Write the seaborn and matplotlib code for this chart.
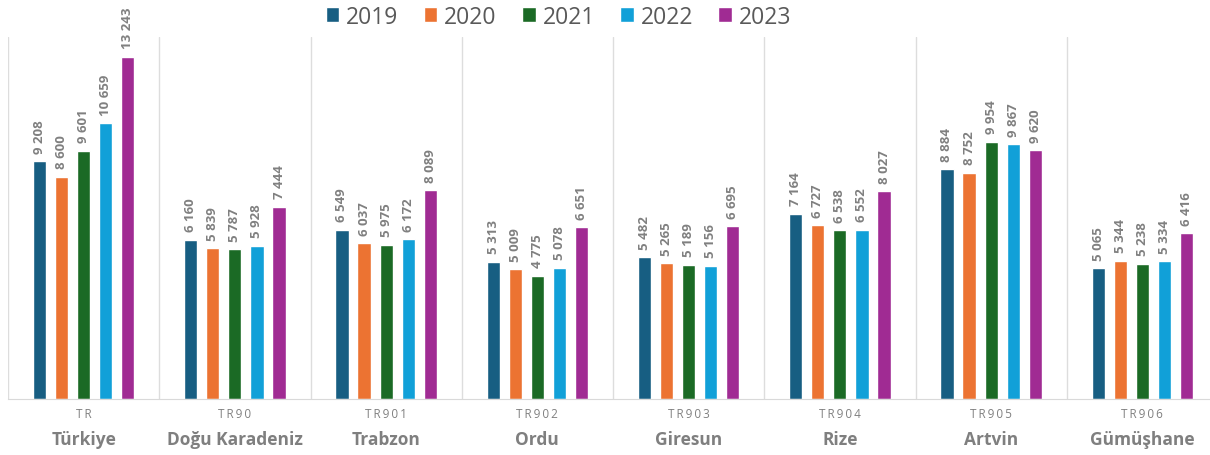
import pandas as pd
import numpy as np
import seaborn as sns
import matplotlib.pyplot as plt

codes = ['TR', 'TR90', 'TR901', 'TR902', 'TR903', 'TR904', 'TR905', 'TR906']
names = ['Türkiye', 'Doğu Karadeniz', 'Trabzon', 'Ordu', 'Giresun', 'Rize', 'Artvin', 'Gümüşhane']
years = ['2019', '2020', '2021', '2022', '2023']
v2019 = [9208, 6160, 6549, 5313, 5482, 7164, 8884, 5065]
v2020 = [8600, 5839, 6037, 5009, 5265, 6727, 8752, 5344]
v2021 = [9601, 5787, 5975, 4775, 5189, 6538, 9954, 5238]
v2022 = [10659, 5928, 6172, 5078, 5156, 6552, 9867, 5334]
v2023 = [13243, 7444, 8089, 6651, 6695, 8027, 9620, 6416]
colors = ['#175e82', '#ec7332', '#1b6a25', '#11a0d8', '#a02b93']

df = pd.DataFrame({'code': codes, '2019': v2019, '2020': v2020, '2021': v2021,
                   '2022': v2022, '2023': v2023})
long = df.melt(id_vars='code', var_name='year', value_name='value')

sns.set_style('white')
plt.rcParams['font.family'] = ['Open Sans', 'DejaVu Sans']

fig = plt.figure(figsize=(12.10, 4.56), dpi=100)
ax = fig.add_axes([8/1210, 56/456, 1210/1210, 362/456])
sns.barplot(data=long, x='code', y='value', hue='year', hue_order=years,
            palette=colors, saturation=1, width=0.73, gap=0.4, ax=ax, legend=True)

# value labels above bars
for cont in ax.containers:
    labels = [f'{int(v):,}'.replace(',', ' ') for v in cont.datavalues]
    ax.bar_label(cont, labels=labels, rotation=90, padding=6, color='#808080',
                 fontsize=9.5, fontweight='bold')

ax.set_xlim(-0.5, 7.5)
ax.set_ylim(0, 14000)
ax.set_yticks([])
ax.set_xlabel('')
ax.set_ylabel('')
for i in range(8):
    ax.axvline(i - 0.5, color='#dddddd', lw=1, zorder=0)
for s in ['left', 'right', 'top']:
    ax.spines[s].set_visible(False)
ax.spines['bottom'].set_color('#d9d9d9')
ax.tick_params(axis='x', length=0, pad=6)
ax.set_xticks(range(8))
ax.set_xticklabels(['\u2009'.join(c) for c in codes], color='#808080', fontsize=8.5)
for i, nm in enumerate(names):
    ax.text(i, -0.11, nm, transform=ax.get_xaxis_transform(), ha='center', va='center',
            fontsize=12.5, fontweight='bold', color='#7f7f7f')

ax.legend(loc='upper center', bbox_to_anchor=(0.455, 1.115), ncol=5, frameon=False,
          fontsize=16.5, labelcolor='#595959', handlelength=0.6, handleheight=0.6,
          handletextpad=0.3, columnspacing=1.1, borderaxespad=0)

fig.savefig('out.png', dpi=100)
